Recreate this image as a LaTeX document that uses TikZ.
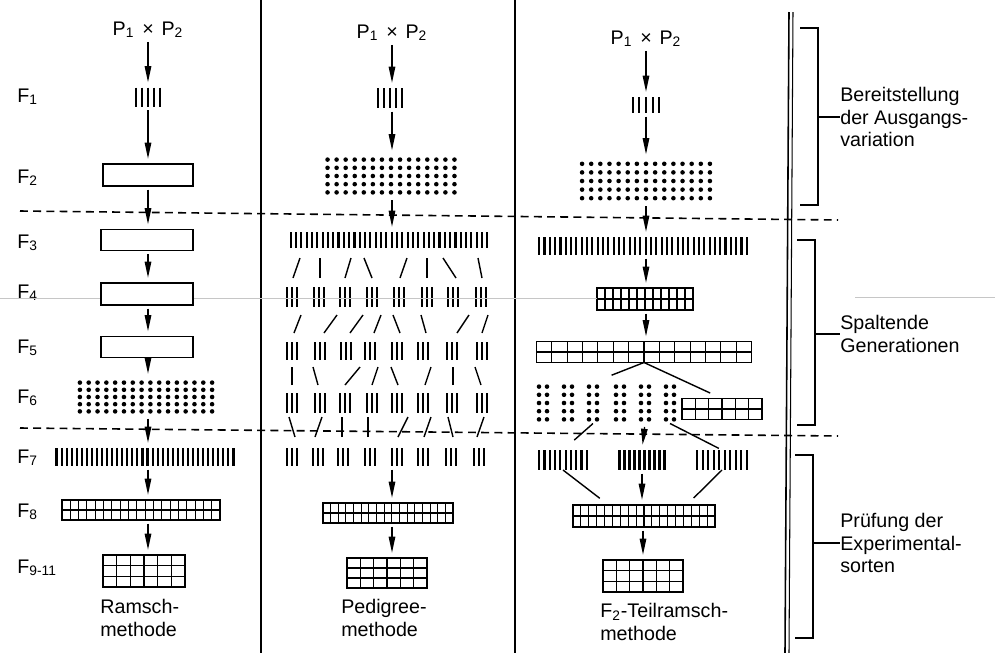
\documentclass[tikz,border=0pt]{standalone}
\usepackage{fontspec}
\setmainfont{Liberation Sans}
\usetikzlibrary{arrows.meta,calc}

\begin{document}
\begin{tikzpicture}[
  x=0.02cm, y=-0.02cm,
  every node/.append style={font=\fontsize{11.2}{13}\selectfont},
  sz/.style 2 args={minimum width=#1*0.02cm, minimum height=#2*0.02cm, inner sep=0pt, outer sep=0pt},
  gen/.style={anchor=base west, inner sep=0pt},
  cross/.style={anchor=base, inner sep=0pt},
  note/.style={anchor=west, align=left, inner sep=0pt},
  flow/.style={-{Triangle[length=3.2mm,width=1.3mm]}, line width=0.7pt, shorten <=2pt, shorten >=3pt},
  link/.style={line width=0.8pt},
  sep/.style={line width=0.9pt, dash pattern=on 4.5pt off 3pt},
  bracketline/.style={line width=0.9pt},
  frame/.style={draw, line width=0.9pt, fill=white},
  barblock/.style={fill=white, path picture={
    \draw[line width=1.2pt] let \p1=(path picture bounding box.north west), \p2=(path picture bounding box.south east) in
      foreach \k in {1,...,#1}{({\x1+(\k-0.5)*(\x2-(\x1))/#1},\y1) -- ({\x1+(\k-0.5)*(\x2-(\x1))/#1},\y2)};}},
  dotblock/.style 2 args={fill=white, path picture={
    \foreach \i in {1,...,#1}{\foreach \j in {1,...,#2}{
      \fill[black] let \p1=(path picture bounding box.north west), \p2=(path picture bounding box.south east) in
        ({\x1+(\i-0.5)*(\x2-(\x1))/#1},{\y1+(\j-0.5)*(\y2-(\y1))/#2}) circle (1.3pt);}}}},
  cellblock/.style 2 args={frame, path picture={
    \draw[line width=0.6pt] let \p1=(path picture bounding box.north west), \p2=(path picture bounding box.south east) in
      foreach \i in {1,...,#1}{({\x1+\i*(\x2-(\x1))/#1},\y1) -- ({\x1+\i*(\x2-(\x1))/#1},\y2)}
      foreach \j in {1,...,#2}{(\x1,{\y1+\j*(\y2-(\y1))/#2}) -- (\x2,{\y1+\j*(\y2-(\y1))/#2})};}}
]
  \useasboundingbox (0,0) rectangle (995,653);

  % column rules and generation separators
  \draw[line width=0.8pt] (261,0) -- (261,653) (515,0) -- (515,653);
  \draw[line width=0.9pt] (789,12) -- (785,653);
  \draw[line width=0.6pt] (793,12) -- (789,653);
  \draw[sep] (20,211) -- (838,220);
  \draw[sep] (20,428) -- (838,436);

  % generation labels
  \foreach \t/\yb [count=\n] in {1/102,2/183,3/248,4/298,5/353,6/403,7/463,8/517,9-11/573}
    \node[gen] (gen\n) at (17,\yb) {F\textsubscript{\t}};

  % Ramschmethode
  \node[cross] (pa) at (148,35) {P\textsubscript{1}\hspace{.4em}×\hspace{.4em}P\textsubscript{2}};
  \node[barblock=5, sz={31}{19}] (a1) at (148,97) {};
  \node[frame, sz={90}{22}] (a2) at (148,175) {};
  \node[frame, sz={92}{21}] (a3) at (147,240) {};
  \node[frame, sz={92}{22}] (a4) at (147,294) {};
  \node[frame, sz={92}{21}] (a5) at (147,347) {};
  \node[dotblock={16}{5}, sz={141}{36}] (a6) at (146,397) {};
  \node[barblock=36, sz={182}{18}] (a7) at (145,457) {};
  \node[cellblock={19}{2}, sz={158}{20}] (a8) at (141,510) {};
  \node[cellblock={6}{3}, sz={82}{32}] (a9) at (144,571) {};
  \node[note] (labA) at (100,618) {Ramsch-\\methode};
  \foreach \u/\v in {pa/a1,a1/a2,a2/a3,a3/a4,a4/a5,a5/a6,a6/a7,a7/a8,a8/a9}
    \draw[flow] (\u.south -| a1) -- (\v.north -| a1);

  % Pedigreemethode
  \node[cross] (pb) at (392,38) {P\textsubscript{1}\hspace{.4em}×\hspace{.4em}P\textsubscript{2}};
  \node[barblock=5, sz={31}{20}] (b1) at (390,98) {};
  \node[dotblock={15}{5}, sz={136}{41}] (b2) at (391,176) {};
  \node[barblock=38, sz={202}{16}] (b3) at (389,240) {};
  \foreach \x [count=\n] in {292,319,345,372,399,427,453,481}
    \node[barblock=3, sz={15}{20}] (b4-\n) at (\x,297) {};
  \foreach \x [count=\n] in {292,320,346,370,397,423,452,482}
    \node[barblock=3, sz={15}{18}] (b5-\n) at (\x,351) {};
  \foreach \x [count=\n] in {292,320,345,372,397,423,452,482}
    \node[barblock=3, sz={15}{20}] (b6-\n) at (\x,403) {};
  \foreach \x [count=\n] in {292,318,343,370,397,423,451,479}
    \node[barblock=3, sz={15}{18}] (b7-\n) at (\x,457) {};
  \coordinate (b7mid) at (392,466);
  \node[cellblock={17}{2}, sz={130}{20}] (b8) at (388,513) {};
  \node[cellblock={6}{3}, sz={80}{30}] (b9) at (387,573) {};
  \node[note] (labB) at (341,618) {Pedigree-\\methode};
  % single-plant selection strokes
  \foreach \n/\ox/\dx in {1/1/7,2/1/0,3/0/6,4/0/-8,5/1/7,6/0/0,7/3/-13,8/1/-4}
    \draw[link] (b4-\n.north) ++(\ox,-9) -- ++(\dx,-20);
  \foreach \n/\ox/\dx in {1/2/7,2/4/13,3/4/13,4/4/7,5/3/-7,6/3/-5,7/5/12,8/0/6}
    \draw[link] (b5-\n.north) ++(\ox,-9) -- ++(\dx,-18);
  \foreach \n/\ox/\dx in {1/0/0,2/-2/-5,3/0/15,4/0/6,5/1/-7,6/2/6,7/1/0,8/-1/-6}
    \draw[link] (b6-\n.north) ++(\ox,-8) -- ++(\dx,-18);
  \foreach \n/\ox/\dx in {1/3/-6,2/-3/7,3/-1/0,4/-2/0,5/1/10,6/1/7,7/2/-5,8/-2/7}
    \draw[link] (b7-\n.north) ++(\ox,-11) -- ++(\dx,-20);
  \foreach \u/\v in {pb/b1,b1/b2,b2/b3,b8/b9}
    \draw[flow] (\u.south -| pb) -- (\v.north -| pb);
  \draw[flow] (b7mid) -- (b8.north -| b7mid);

  % F2-Teilramschmethode
  \node[cross] (pc) at (646,44) {P\textsubscript{1}\hspace{.4em}×\hspace{.4em}P\textsubscript{2}};
  \node[barblock=5, sz={33}{16}] (c1) at (646,105) {};
  \node[dotblock={15}{5}, sz={137}{43}] (c2) at (646,181) {};
  \node[barblock=40, sz={213}{18}] (c3) at (643,246) {};
  \node[cellblock={12}{2}, sz={96}{22}] (c4) at (645,299) {};
  \node[cellblock={14}{2}, sz={215}{21}] (c5) at (644,352) {};
  \foreach \x [count=\n] in {543,568,593,620,645,670}
    \node[dotblock={2}{5}, sz={16}{41}] (c6-\n) at (\x,403) {};
  \node[cellblock={6}{2}, sz={80}{21}] (c6x) at (722,409) {};
  \node[barblock=10, sz={53}{20}] (c7-1) at (563,460) {};
  \node[barblock=10, sz={50}{20}] (c7-2) at (642,460) {};
  \node[barblock=10, sz={55}{20}] (c7-3) at (722,460) {};
  \node[cellblock={18}{2}, sz={142}{22}] (c8) at (644,516) {};
  \node[cellblock={6}{3}, sz={80}{32}] (c9) at (643,576) {};
  \node[note] (labC) at (600,622) {F\textsubscript{2}-Teilramsch-\\methode};
  \foreach \u/\v in {pc/c1,c1/c2,c2/c3,c3/c4,c4/c5}
    \draw[flow] (\u.south -| pc) -- (\v.north -| pc);
  \draw[link, shorten >=0.4cm] (c5.south) -- (c6-3.north);
  \draw[link, shorten >=0.26cm] (c5.south) -- (c6x.north);
  \draw[link, shorten >=0.3cm] (c6-3.south) -- (c7-1.north);
  \draw[flow] (c6-5.south) -- (c7-2.north);
  \draw[link, shorten >=2pt] (c6-6.south) -- (c7-3.north);
  \draw[link, shorten >=0.22cm] (c7-1.south) -- ($(c8.north west)!0.25!(c8.north east)$);
  \draw[flow] (c7-2.south) -- (c8.north -| c7-2);
  \draw[link, shorten >=0.2cm] (c7-3.south) -- ($(c8.north west)!0.8!(c8.north east)$);
  \draw[flow] (c8.south -| c9) -- (c9.north);

  % phases
  \node[note] (br1) at (840,117) {Bereitstellung\\der Ausgangs-\\variation};
  \draw[bracketline] (800,28) -| (818,205) -- (800,205) (818,117) -- (br1.west);
  \node[note] (br2) at (840,334) {Spaltende\\Generationen};
  \draw[bracketline] (797,240) -| (815,425) -- (797,425) (815,334) -- (br2.west);
  \node[note] (br3) at (840,543) {Prüfung der\\Experimental-\\sorten};
  \draw[bracketline] (795,455) -| (813,638) -- (795,638) (813,543) -- (br3.west);

  % faint print line
  \draw[gray!45, line width=0.35pt] (0,298) -- (100,298) (194,298) -- (597,298) (855,297) -- (995,297);
\end{tikzpicture}
\end{document}
